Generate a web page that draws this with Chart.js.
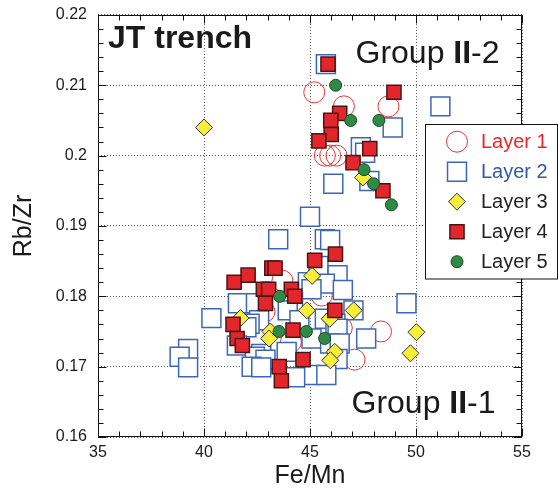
<!DOCTYPE html>
<html><head><meta charset="utf-8">
<script src="https://cdn.jsdelivr.net/npm/chart.js"></script>
<style>html,body{margin:0;padding:0;background:#fff}</style>
</head><body>
<canvas id="c" width="559" height="490" style="display:block;width:559px;height:490px"></canvas>
<script>
// ---- data ----
const seriesNames = ['Layer 1', 'Layer 2', 'Layer 3', 'Layer 4', 'Layer 5'];
const xTickLabels = ['35', '40', '45', '50', '55'];
const yTickLabels = ['0.16', '0.17', '0.18', '0.19', '0.2', '0.21', '0.22'];
const xTitle = 'Fe/Mn';
const yTitle = 'Rb/Zr';

// [Fe/Mn, Rb/Zr]
const layer1 = [
  [45.2,0.209],[46.6,0.207],[48.7,0.207],[45.7,0.200],[45.95,0.200],[46.25,0.200],
  [43.7,0.1822],[42.85,0.1778],[45.55,0.1801],[48.35,0.175],[47.1,0.171],[44.1,0.1735],[46.5,0.1755]
];
const layer2 = [
  [45.75,0.213],[51.15,0.207],[48.9,0.204],[47.4,0.2012],[47.6,0.2004],[47.8,0.1964],[46.1,0.196],[45.0,0.1913],
  [43.5,0.1881],[45.7,0.1881],[45.95,0.188],
  [45.4,0.1843],[46.3,0.183],[44.9,0.182],[45.7,0.1818],[45.07,0.181],[46.55,0.1809],
  [41.6,0.179],[42.45,0.179],[44.2,0.1792],[49.55,0.179],[43.95,0.178],[47.05,0.178],
  [40.35,0.1769],[42.6,0.1766],[44.5,0.1766],[45.7,0.1768],[42.15,0.1761],[46.2,0.1761],[42.0,0.1756],[46.3,0.1754],
  [45.07,0.174],[47.65,0.174],[41.55,0.173],[45.95,0.1733],[46.4,0.1733],
  [39.25,0.1725],[43.9,0.1721],[42.7,0.1718],[38.85,0.1714],[42.4,0.1714],[42.9,0.171],[46.3,0.1711],
  [39.25,0.1699],[42.25,0.17],[42.7,0.1699],[45.0,0.1688],[45.77,0.1688],[44.3,0.1685]
];
const layer3 = [
  [40.0,0.204],[47.5,0.1969],[45.1,0.1829],[41.72,0.1769],[44.85,0.178],[47.06,0.178],[45.93,0.1768],
  [43.13,0.175],[43.07,0.174],[50.02,0.1749],[49.74,0.1719],[46.17,0.1721],[45.96,0.1709]
];
const layer4 = [
  [45.85,0.213],[48.96,0.209],[46.4,0.206],[45.98,0.205],[46.0,0.203],[45.42,0.2021],[47.82,0.201],[47.03,0.199],[48.44,0.195],
  [46.2,0.186],[45.22,0.1851],[43.2,0.184],[43.35,0.184],[42.08,0.183],[41.42,0.182],[42.8,0.181],[43.05,0.181],
  [44.12,0.181],[44.28,0.180],[42.9,0.179],[46.17,0.178],[41.37,0.176],[44.2,0.1752],[41.56,0.174],[41.81,0.173],
  [44.67,0.171],[43.55,0.170],[43.65,0.168]
];
const layer5 = [
  [46.21,0.210],[46.92,0.205],[48.25,0.205],[47.55,0.198],[48.0,0.196],[48.84,0.193],
  [43.57,0.180],[43.54,0.175],[44.83,0.175],[45.69,0.174]
];

// ---- styles ----
const FONT = "'Liberation Sans', Arial, Helvetica, sans-serif";
const styles = [
  {pointStyle:'circle',  radius:10.5, bg:'rgba(0,0,0,0)', border:'#e8343a', bw:1,   text:'#e8262a', order:5},
  {pointStyle:'rect',    radius:13.4, bg:'#ffffff',       border:'#3d66b8', bw:1.5, text:'#2f5aa8', order:4},
  {pointStyle:'rectRot', radius:8.5,  bg:'#f7ee3b',       border:'#333333', bw:1,   text:'#222222', order:3},
  {pointStyle:'rect',    radius:10,   bg:'#e2262b',       border:'#4a1515', bw:1.5, text:'#222222', order:2},
  {pointStyle:'circle',  radius:6,    bg:'#2f8a45',       border:'#1d4a26', bw:1,   text:'#222222', order:1}
];
const allLayers = [layer1, layer2, layer3, layer4, layer5];

const datasets = allLayers.map((arr, i) => ({
  label: seriesNames[i],
  data: arr.map(p => ({x: p[0], y: p[1]})),
  pointStyle: styles[i].pointStyle,
  pointRadius: styles[i].radius,
  pointHoverRadius: styles[i].radius,
  backgroundColor: styles[i].bg,
  borderColor: styles[i].border,
  borderWidth: styles[i].bw,
  order: styles[i].order
}));

function drawMarker(ctx, st, x, y) {
  ctx.save();
  ctx.fillStyle = st.bg; ctx.strokeStyle = st.border; ctx.lineWidth = st.bw;
  ctx.beginPath();
  const r = st.radius;
  if (st.pointStyle === 'circle') {
    ctx.arc(x, y, r, 0, Math.PI * 2);
  } else if (st.pointStyle === 'rect') {
    const h = r * Math.SQRT1_2;
    ctx.rect(x - h, y - h, 2 * h, 2 * h);
  } else {
    ctx.moveTo(x, y - r); ctx.lineTo(x + r, y); ctx.lineTo(x, y + r); ctx.lineTo(x - r, y); ctx.closePath();
  }
  ctx.fill(); ctx.stroke();
  ctx.restore();
}

function drawMixed(ctx, parts, x, y, size) {
  let cx = x;
  for (const [txt, bold] of parts) {
    ctx.font = (bold ? 'bold ' : '') + size + 'px ' + FONT;
    ctx.fillText(txt, cx, y);
    cx += ctx.measureText(txt).width;
  }
}

const decor = {
  id: 'decor',
  afterDraw(chart) {
    const {ctx, chartArea: a, scales: {x, y}} = chart;
    ctx.save();
    const L = Math.round(a.left) + 0.5, R = Math.round(a.right) - 0.5;
    const T = Math.round(a.top) + 0.5, B = Math.round(a.bottom) - 0.5;
    ctx.strokeStyle = '#111'; ctx.lineWidth = 1;
    ctx.strokeRect(L, T, R - L, B - T);
    // inward ticks on all four sides
    ctx.beginPath();
    for (let v = x.min; v <= x.max + 1e-9; v += 1) {
      const p = Math.round(x.getPixelForValue(v)) + 0.5;
      const len = Math.abs(v % 5) < 1e-9 ? 8 : 5;
      ctx.moveTo(p, B); ctx.lineTo(p, B - len);
      ctx.moveTo(p, T); ctx.lineTo(p, T + len);
    }
    for (let k = 0; k <= 30; k++) {
      const v = y.min + k * 0.002;
      const p = Math.round(y.getPixelForValue(v)) + 0.5;
      const len = k % 5 === 0 ? 8 : 5;
      ctx.moveTo(L, p); ctx.lineTo(L + len, p);
      ctx.moveTo(R, p); ctx.lineTo(R - len, p);
    }
    ctx.stroke();

    // annotations
    ctx.fillStyle = '#1a1a1a';
    ctx.textBaseline = 'alphabetic'; ctx.textAlign = 'left';
    drawMixed(ctx, [['JT trench', true]], 108, 47.5, 32);
    drawMixed(ctx, [['Group ', false], ['II', true], ['-2', false]], 355.5, 63, 32);
    drawMixed(ctx, [['Group ', false], ['II', true], ['-1', false]], 351.5, 413, 32);

    // legend
    ctx.fillStyle = '#fff'; ctx.strokeStyle = '#111'; ctx.lineWidth = 1;
    ctx.fillRect(425.5, 124.5, 132, 154.5);
    ctx.strokeRect(425.5, 124.5, 132, 154.5);
    ctx.font = '20px ' + FONT;
    ctx.textBaseline = 'middle';
    for (let i = 0; i < seriesNames.length; i++) {
      const cy = 141.7 + 30 * i;
      drawMarker(ctx, styles[i], 457, cy);
      ctx.fillStyle = styles[i].text;
      ctx.fillText(seriesNames[i], 481, cy + 1);
    }
    ctx.restore();
  }
};

new Chart(document.getElementById('c'), {
  type: 'scatter',
  data: {datasets},
  options: {
    responsive: false,
    animation: false,
    devicePixelRatio: 1,
    events: [],
    layout: {padding: {left: 0, top: 13, right: 37, bottom: 0}},
    plugins: {legend: {display: false}, tooltip: {enabled: false}},
    scales: {
      x: {
        type: 'linear', min: 35, max: 55,
        afterFit: s => { s.height = 53; s.paddingLeft = 0; s.paddingRight = 0; },
        ticks: {
          stepSize: 5, padding: 6, color: '#1a1a1a',
          font: {family: FONT, size: 16},
          callback: (v, i) => xTickLabels[i]
        },
        grid: {drawTicks: false, color: '#555', lineWidth: 1},
        border: {display: false, dash: [1, 2]},
        title: {display: true, text: xTitle, color: '#1a1a1a',
                font: {family: FONT, size: 25, lineHeight: 1}, padding: {top: 0, bottom: 1.5}}
      },
      y: {
        type: 'linear', min: 0.16, max: 0.22,
        afterFit: s => { s.width = 98; s.paddingTop = 0; s.paddingBottom = 0; },
        ticks: {
          stepSize: 0.01, padding: 11, color: '#1a1a1a',
          font: {family: FONT, size: 16},
          callback: (v, i) => yTickLabels[i]
        },
        grid: {drawTicks: false, color: '#555', lineWidth: 1},
        border: {display: false, dash: [1, 2]},
        title: {display: true, text: yTitle, color: '#1a1a1a',
                font: {family: FONT, size: 25, lineHeight: 1}, padding: {top: 12, bottom: 0}}
      }
    }
  },
  plugins: [decor]
});
</script>
</body></html>
